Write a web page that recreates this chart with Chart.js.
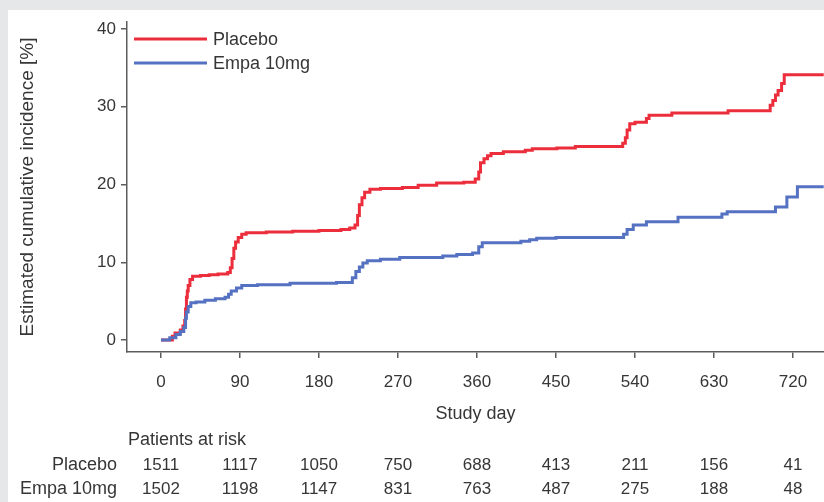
<!DOCTYPE html>
<html><head><meta charset="utf-8">
<script src="https://cdn.jsdelivr.net/npm/chart.js@4.4.1/dist/chart.umd.min.js"></script>
<style>
html,body{margin:0;padding:0;background:#e6e7e9;overflow:hidden}
#wrap{position:absolute;left:0;top:0;width:824px;height:502px}
</style></head>
<body><div id="wrap"><canvas id="c" width="824" height="502"></canvas></div>
<script>
// ---- data ----
const seriesNames = ['Placebo', 'Empa 10mg'];
const placeboDays   = [0, 13, 16, 22, 25, 27, 28, 29, 30, 31, 33, 36, 45, 55, 65, 76, 79, 81, 83, 85, 88, 92, 97, 120, 150, 180, 205, 215, 221, 224, 226, 229, 232, 238, 250, 275, 293, 314, 345, 358, 362, 364, 368, 372, 376, 390, 415, 423, 451, 472, 526, 529, 531, 534, 540, 553, 556, 582, 646, 694, 697, 700, 703, 707, 710, 755];
const placeboValues = [0, 0.5, 0.9, 1.3, 1.8, 2.5, 4.0, 5.5, 6.3, 7.0, 7.8, 8.2, 8.3, 8.4, 8.5, 8.7, 9.3, 10.5, 11.8, 12.6, 13.2, 13.6, 13.8, 13.9, 14.0, 14.1, 14.2, 14.4, 14.8, 16.0, 17.4, 18.3, 19.0, 19.4, 19.5, 19.6, 19.9, 20.2, 20.3, 20.7, 21.6, 22.8, 23.3, 23.7, 24.0, 24.2, 24.4, 24.6, 24.7, 24.9, 25.3, 26.0, 27.0, 27.8, 28.0, 28.5, 28.9, 29.2, 29.5, 30.2, 30.8, 31.5, 32.1, 33.0, 34.1, 34.1];
const empaDays   = [0, 10, 17, 22, 26, 28, 29, 31, 34, 40, 50, 62, 73, 77, 80, 86, 92, 110, 147, 200, 218, 222, 226, 230, 235, 250, 272, 321, 337, 355, 362, 366, 410, 420, 428, 450, 527, 531, 538, 553, 589, 639, 645, 700, 713, 725, 755];
const empaValues = [0, 0.3, 0.7, 1.1, 1.6, 2.8, 3.6, 4.3, 4.8, 4.9, 5.1, 5.3, 5.5, 5.9, 6.3, 6.7, 7.0, 7.1, 7.3, 7.4, 8.0, 8.8, 9.4, 9.9, 10.2, 10.4, 10.6, 10.8, 11.0, 11.2, 12.0, 12.5, 12.7, 12.9, 13.1, 13.2, 13.6, 14.2, 14.8, 15.2, 15.8, 16.2, 16.5, 17.1, 18.4, 19.7, 19.7];
const xTicks = [0, 90, 180, 270, 360, 450, 540, 630, 720];
const yTicks = [0, 10, 20, 30, 40];
const riskPlacebo = [1511, 1117, 1050, 750, 688, 413, 211, 156, 41];
const riskEmpa    = [1502, 1198, 1147, 831, 763, 487, 275, 188, 48];

// ---- style ----
const FONT = "'Liberation Sans', Arial, sans-serif";
const FS = 17;      // tick numbers
const FT = 18;      // words
const TXT = '#363636';
const AX = '#5c5c5c';
const COLORS = ['#ec2e3c', '#5572c2'];

const toPts = (d, v) => d.map((x, i) => ({x, y: v[i]}));

const bgPlugin = {
  id: 'bg',
  beforeDraw(chart) {
    const c = chart.ctx;
    c.save();
    c.fillStyle = '#e6e7e9';
    c.fillRect(0, 0, chart.width, chart.height);
    c.fillStyle = '#ffffff';
    c.fillRect(8, 10, chart.width - 8, chart.height - 10);
    c.restore();
  }
};

const legendPlugin = {
  id: 'customLegend',
  afterDraw(chart) {
    const c = chart.ctx;
    c.save();
    c.font = FT + 'px ' + FONT;
    c.textBaseline = 'middle';
    c.textAlign = 'left';
    seriesNames.forEach((n, i) => {
      const y = 39 + 24 * i;
      c.strokeStyle = COLORS[i];
      c.lineWidth = 3;
      c.beginPath(); c.moveTo(134, y); c.lineTo(207, y); c.stroke();
      c.fillStyle = TXT;
      c.fillText(n, 213, y + 1);
    });
    c.restore();
  }
};

const riskPlugin = {
  id: 'riskTable',
  afterDraw(chart) {
    const c = chart.ctx;
    const xs = chart.scales.x;
    c.save();
    c.fillStyle = TXT;
    c.textBaseline = 'middle';
    c.textAlign = 'left';
    c.font = FT + 'px ' + FONT;
    c.fillText('Patients at risk', 128, 440);
    const rows = [[seriesNames[0], riskPlacebo, 465], [seriesNames[1], riskEmpa, 489]];
    rows.forEach(([name, vals, y]) => {
      c.font = FT + 'px ' + FONT;
      c.textAlign = 'right';
      c.fillText(name, 117, y);
      c.font = FS + 'px ' + FONT;
      c.textAlign = 'center';
      vals.forEach((v, i) => c.fillText(String(v), xs.getPixelForValue(xTicks[i]), y));
    });
    c.restore();
  }
};

new Chart(document.getElementById('c'), {
  type: 'line',
  data: {
    datasets: [
      {label: seriesNames[0], data: toPts(placeboDays, placeboValues), borderColor: COLORS[0], borderWidth: 3, pointRadius: 0, stepped: true, fill: false, order: 2},
      {label: seriesNames[1], data: toPts(empaDays, empaValues), borderColor: COLORS[1], borderWidth: 3, pointRadius: 0, stepped: true, fill: false, order: 1}
    ]
  },
  options: {
    responsive: false,
    animation: false,
    devicePixelRatio: 1,
    layout: {padding: {left: 0, top: 22, right: 0, bottom: 0}},
    plugins: {legend: {display: false}, tooltip: {enabled: false}},
    scales: {
      x: {
        type: 'linear', min: -38.7, max: 755.3,
        afterFit(s) { s.height = 150; },
        afterBuildTicks(s) { s.ticks = xTicks.map(v => ({value: v})); },
        grid: {display: true, drawOnChartArea: false, drawTicks: true, tickLength: 6, color: AX, lineWidth: 1.5},
        border: {display: true, color: AX, width: 1.5},
        ticks: {color: TXT, font: {family: FONT, size: FS}, padding: 14, maxRotation: 0, autoSkip: false},
        title: {display: true, text: 'Study day', color: TXT, font: {family: FONT, size: FT}, padding: {top: 0, bottom: 77}}
      },
      y: {
        type: 'linear', min: -1.54, max: 40.9,
        afterFit(s) { s.width = 127; },
        afterBuildTicks(s) { s.ticks = yTicks.map(v => ({value: v})); },
        grid: {display: true, drawOnChartArea: false, drawTicks: true, tickLength: 6, color: AX, lineWidth: 1.5},
        border: {display: true, color: AX, width: 1.5},
        ticks: {color: TXT, font: {family: FONT, size: FS}, padding: 5},
        title: {display: true, text: 'Estimated cumulative incidence [%]', color: TXT, font: {family: FONT, size: 19}, padding: {top: 16.5, bottom: 0}}
      }
    }
  },
  plugins: [bgPlugin, legendPlugin, riskPlugin]
});
</script>
</body></html>
